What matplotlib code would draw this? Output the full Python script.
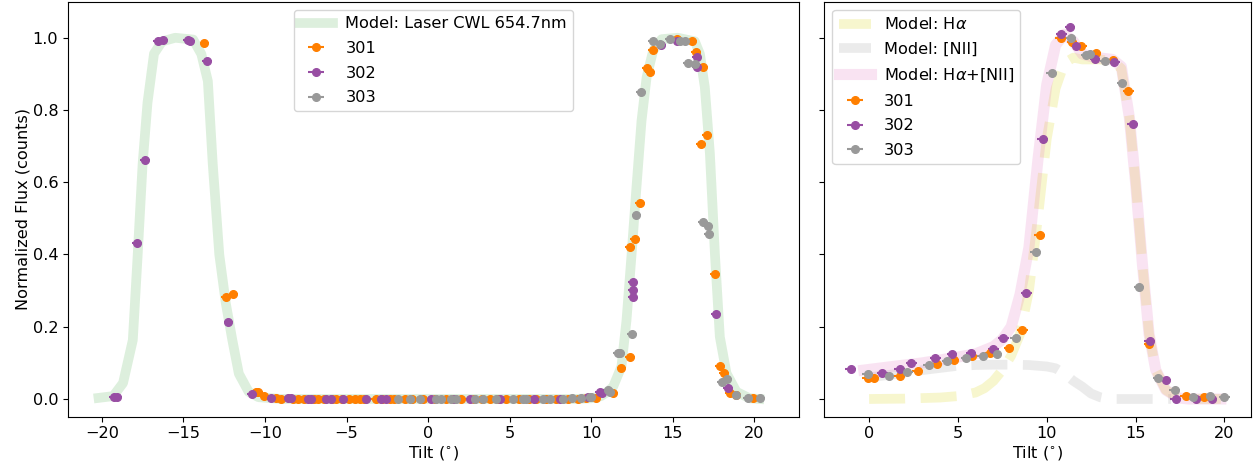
import numpy as np
import matplotlib.pyplot as plt

# laser filter model (left panel)
laser_tilt = [-20.2, -19.3, -18.7, -18.1, -17.8, -17.5, -17.2, -16.8, -16.3, -15.5, -14.4,
              -13.9, -13.5, -13.2, -12.8, -12.4, -12.0, -11.6, -11.0, -10.4, -9.0, 0.0,
              9.0, 10.0, 10.6, 11.0, 11.34, 11.85, 12.16, 12.47, 12.77, 13.08, 13.39, 13.79,
              14.31, 15.3, 16.35, 16.66, 16.96, 17.27, 17.58, 17.88, 18.29, 18.9, 19.7, 20.3]
laser_model = [0.003, 0.008, 0.044, 0.163, 0.40, 0.65, 0.82, 0.956, 0.99, 1.0, 0.995,
               0.955, 0.88, 0.65, 0.40, 0.265, 0.163, 0.07, 0.02, 0.005, 0.0, 0.0,
               0.0, 0.002, 0.008, 0.02, 0.034, 0.09, 0.218, 0.40, 0.586, 0.77, 0.89, 0.964,
               0.996, 1.0, 0.99, 0.955, 0.863, 0.68, 0.40, 0.172, 0.071, 0.02, 0.002, 0.0]

# laser scans
l301_tilt = [-13.71, -12.38, -11.93, -10.54, -10.44, -10.03, -9.31, -9.0, -8.3, -7.99, -7.6,
             -7.0, -6.76, -6.4, -5.9, -5.63, -5.3, -4.82, -4.5, -4.2, -3.9, -3.18, -2.8,
             -2.36, -2.1, -1.44, -1.0, -0.3, 0.4, 1.12, 1.5, 2.04, 2.8, 3.3, 3.77, 4.3,
             4.8, 5.6, 6.2, 6.64, 7.2, 7.86, 8.6, 9.2, 9.7, 10.3, 11.34, 11.85, 12.36,
             12.36, 12.67, 12.98, 13.39, 13.59, 13.79, 15.23, 16.2, 16.41, 16.86, 16.72,
             17.07, 17.58, 17.88, 18.13, 18.5, 18.9, 19.93]
l301_flux = [0.986, 0.283, 0.29, 0.02, 0.02, 0.008, 0.002, 0.001, 0.001, 0.0, 0.0,
             0.0, 0.0, 0.0, 0.0, 0.0, 0.0, 0.0, 0.0, 0.0, 0.0, 0.0, 0.0,
             0.0, 0.0, 0.0, 0.0, 0.0, 0.0, 0.0, 0.0, 0.0, 0.0, 0.0, 0.0, 0.0,
             0.0, 0.0, 0.0, 0.0, 0.0, 0.0, 0.001, 0.001, 0.002, 0.004, 0.017, 0.087, 0.117,
             0.421, 0.444, 0.542, 0.915, 0.904, 0.966, 0.996, 0.99, 0.96, 0.918, 0.705,
             0.73, 0.345, 0.091, 0.071, 0.017, 0.011, 0.003]

l302_tilt = [-19.25, -19.05, -17.84, -17.37, -16.57, -16.27, -14.73, -14.6, -13.55, -12.24,
             -10.79, -9.62, -8.6, -8.4, -7.37, -7.17, -6.25, -5.94, -5.23, -3.79, -2.87,
             -2.56, 0.2, 1.6, 2.55, 4.4, 6.5, 8.1, 9.8, 10.52, 10.63, 12.53, 12.53, 12.53,
             14.3, 15.23, 16.45, 16.45, 17.64, 18.39]
l302_flux = [0.005, 0.006, 0.432, 0.662, 0.99, 0.995, 0.995, 0.99, 0.936, 0.214,
             0.013, 0.003, 0.002, 0.002, 0.001, 0.001, 0.0, 0.0, 0.0, 0.0, 0.0,
             0.0, 0.0, 0.0, 0.0, 0.0, 0.0, 0.001, 0.006, 0.02, 0.017, 0.324, 0.303, 0.281,
             0.98, 0.99, 0.946, 0.92, 0.235, 0.031]

l303_tilt = [-1.85, -1.13, -0.52, 0.5, 0.8, 1.42, 1.73, 2.85, 3.36, 4.18, 5.2, 5.8, 6.0,
             7.05, 7.45, 8.27, 8.79, 9.4, 9.9, 10.01, 11.03, 11.13, 11.65, 11.75, 12.51,
             12.77, 13.04, 13.79, 14.2, 14.82, 15.43, 15.74, 15.94, 16.35, 16.86, 17.17,
             17.23, 17.99, 18.3, 18.9, 19.62, 20.34]
l303_flux = [0.0, 0.0, 0.0, 0.0, 0.0, 0.0, 0.0, 0.0, 0.0, 0.0, 0.0, 0.0, 0.0,
             0.0, 0.0, 0.001, 0.002, 0.004, 0.006, 0.006, 0.025, 0.02, 0.128, 0.128, 0.18,
             0.51, 0.851, 0.99, 0.984, 0.996, 0.99, 0.99, 0.93, 0.927, 0.49, 0.478,
             0.458, 0.048, 0.054, 0.012, 0.004, 0.003]

# H-alpha / [NII] models (right panel)
ha_tilt = [0.0, 2.0, 4.0, 5.0, 6.0, 6.5, 7.0, 7.5, 8.0, 8.5, 9.0, 9.5, 10.0, 10.5, 11.0,
           11.5, 12.0, 13.0, 13.7, 14.2, 14.65, 15.0, 15.4, 15.76, 16.14, 16.7, 17.4,
           18.0, 19.0, 19.8]
ha_model = [0.0, 0.001, 0.004, 0.008, 0.018, 0.03, 0.05, 0.08, 0.12, 0.18, 0.3, 0.5, 0.72,
            0.86, 0.93, 0.945, 0.94, 0.94, 0.935, 0.915, 0.78, 0.6, 0.366, 0.18, 0.08,
            0.025, 0.003, 0.0, 0.0, 0.0]
nii_tilt = [0.0, 1.0, 2.0, 3.0, 4.0, 5.0, 6.0, 7.0, 8.0, 9.0, 10.0, 10.5, 11.0, 11.5, 12.0,
            12.5, 13.0, 13.5, 15.0, 17.0]
nii_model = [0.06, 0.066, 0.072, 0.08, 0.086, 0.092, 0.094, 0.095, 0.095, 0.094, 0.09,
             0.085, 0.07, 0.05, 0.034, 0.015, 0.005, 0.0, 0.0, 0.0]
tot_tilt = [-0.3, 1.0, 2.0, 3.0, 4.0, 5.0, 6.0, 7.0, 7.5, 8.0, 8.5, 9.0, 9.5, 10.0, 10.5,
            11.0, 11.5, 12.0, 12.5, 13.0, 13.7, 14.2, 14.65, 15.0, 15.4, 15.76, 16.14,
            16.7, 17.4, 18.0, 19.0, 19.8]
tot_model = [0.08, 0.088, 0.094, 0.1, 0.108, 0.116, 0.125, 0.145, 0.165, 0.2, 0.29, 0.42,
             0.66, 0.87, 0.98, 1.01, 0.99, 0.955, 0.948, 0.944, 0.94, 0.92, 0.78, 0.6,
             0.366, 0.18, 0.08, 0.025, 0.003, 0.0, 0.0, 0.0]

# sky scans
s301_tilt = [-0.09, 0.28, 1.72, 2.74, 3.82, 4.76, 5.78, 6.81, 7.87, 8.62, 9.61, 10.78,
             11.42, 11.94, 12.78, 13.71, 14.59, 15.76, 17.82, 18.84]
s301_flux = [0.059, 0.057, 0.065, 0.077, 0.096, 0.108, 0.12, 0.126, 0.14, 0.191, 0.454,
             1.0, 0.987, 0.978, 0.957, 0.938, 0.853, 0.151, 0.009, 0.006]
s302_tilt = [-1.03, 0.75, 1.72, 2.37, 3.73, 4.66, 5.73, 7.0, 7.56, 8.86, 9.78, 10.82,
             11.31, 11.66, 12.72, 13.8, 14.83, 15.8, 16.7, 17.26, 18.43, 19.3]
s302_flux = [0.082, 0.073, 0.082, 0.099, 0.114, 0.124, 0.126, 0.137, 0.168, 0.294, 0.72,
             1.011, 1.03, 0.978, 0.941, 0.934, 0.761, 0.16, 0.053, 0.0, 0.0, 0.0]
s303_tilt = [-0.09, 1.12, 2.15, 3.36, 4.38, 5.45, 6.4, 7.18, 8.25, 9.37, 10.28, 11.34,
             12.22, 12.41, 13.3, 14.24, 15.2, 16.27, 17.2, 18.25, 19.18, 20.0]
s303_flux = [0.068, 0.065, 0.076, 0.094, 0.106, 0.113, 0.119, 0.124, 0.168, 0.408, 0.903,
             0.998, 0.952, 0.955, 0.935, 0.875, 0.311, 0.059, 0.025, 0.006, 0.009, 0.006]

colors = {'301': '#ff7f00', '302': '#984ea3', '303': '#999999'}

plt.rcParams['font.size'] = 11.6
plt.rcParams['legend.labelspacing'] = 0.6
plt.rcParams['legend.borderpad'] = 0.38

fig = plt.figure(figsize=(12.53, 4.65), dpi=100)
ax1 = fig.add_axes([0.0543, 0.1039, 0.5836, 0.8918])
ax2 = fig.add_axes([0.6579, 0.1039, 0.3405, 0.8918], sharey=ax1)

ax1.plot(laser_tilt, laser_model, color='C2', alpha=0.16, lw=7, label='Model: Laser CWL 654.7nm')
for name, t, f in [('301', l301_tilt, l301_flux), ('302', l302_tilt, l302_flux),
                   ('303', l303_tilt, l303_flux)]:
    ax1.errorbar(t, f, xerr=0.3, fmt='o', ms=5.5, color=colors[name], label=name)
ax1.set_xlim(-22.07, 22.75)
ax1.set_ylim(-0.049, 1.099)
ax1.set_xlabel('Tilt ($^{\\circ}$)', labelpad=2)
ax1.set_ylabel('Normalized Flux (counts)', labelpad=1.5)
ax1.legend(loc='upper center')

ax2.plot(ha_tilt, ha_model, color='#dcd820', alpha=0.22, lw=7, ls='--', label='Model: H$\\alpha$')
ax2.plot(nii_tilt, nii_model, color='C7', alpha=0.15, lw=7, ls='--', label='Model: [NII]')
ax2.plot(tot_tilt, tot_model, color='C6', alpha=0.2, lw=8, label='Model: H$\\alpha$+[NII]')
for name, t, f in [('301', s301_tilt, s301_flux), ('302', s302_tilt, s302_flux),
                   ('303', s303_tilt, s303_flux)]:
    ax2.errorbar(t, f, xerr=0.3, fmt='o', ms=5.5, color=colors[name], label=name)
ax2.set_xlim(-2.52, 21.5)
ax2.set_xlabel('Tilt ($^{\\circ}$)', labelpad=2)
ax2.tick_params(labelleft=False)
ax2.legend(loc='upper left')

fig.savefig('out.png')
